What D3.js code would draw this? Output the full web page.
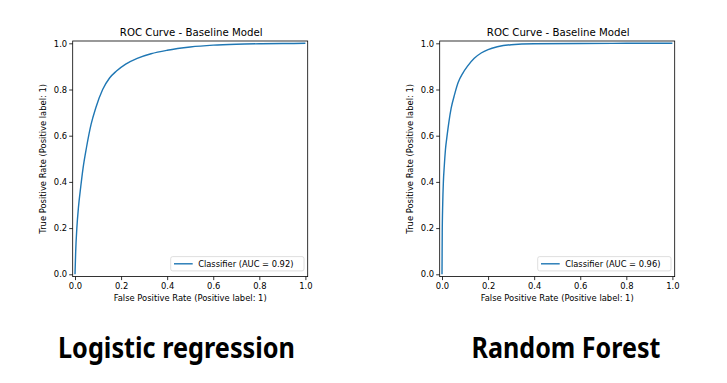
<!DOCTYPE html>
<html>
<head>
<meta charset="utf-8">
<script src="https://cdn.jsdelivr.net/npm/d3@7"></script>
<style>
  body { margin: 0; background: #fff; }
  text { font-family: "DejaVu Sans", sans-serif; fill: #000; }
</style>
</head>
<body>
<div id="chart"></div>
<script>
var width = 727;
var height = 383;

// ROC points
var lrFpr = [0, 0.003, 0.008, 0.015, 0.025, 0.035, 0.05, 0.07, 0.09, 0.12, 0.15, 0.18, 0.22, 0.27, 0.33, 0.4, 0.5, 0.6, 0.7, 0.8, 0.9, 1.0];
var lrTpr = [0, 0.1, 0.2, 0.29, 0.38, 0.46, 0.55, 0.65, 0.72, 0.8, 0.85, 0.88, 0.91, 0.935, 0.955, 0.97, 0.984, 0.992, 0.996, 0.998, 0.999, 1.0];

var rfFpr = [0, 0.001, 0.003, 0.006, 0.01, 0.015, 0.022, 0.03, 0.04, 0.055, 0.07, 0.09, 0.11, 0.14, 0.17, 0.2, 0.24, 0.3, 0.4, 0.6, 0.8, 1.0];
var rfTpr = [0, 0.18, 0.3, 0.4, 0.47, 0.54, 0.6, 0.66, 0.72, 0.78, 0.83, 0.87, 0.9, 0.935, 0.958, 0.973, 0.985, 0.994, 0.998, 0.999, 1.0, 1.0];

var ticks = [0, 0.2, 0.4, 0.6, 0.8, 1.0];
var chartTitle = "ROC Curve - Baseline Model";
var xLabel = "False Positive Rate (Positive label: 1)";
var yLabel = "True Positive Rate (Positive label: 1)";
var legendLabels = ["Classifier (AUC = 0.92)", "Classifier (AUC = 0.96)"];
var modelNames = ["Logistic regression", "Random Forest"];

var svg = d3.select("#chart").append("svg")
	.attr("width", width)
	.attr("height", height);

function draw_roc(left, fpr, tpr, legendText) {
	var right = left + 235;
	var top = 41, bottom = 276.6;
	var x = d3.scaleLinear().domain([-0.01, 1.01]).range([left, right]);
	var y = d3.scaleLinear().domain([-0.01, 1.01]).range([bottom, top]);

	var g = svg.append("g");

	// axes
	var xAxis = g.append("g")
		.attr("transform", "translate(0," + bottom + ")")
		.call(d3.axisBottom(x).tickValues(ticks).tickFormat(d3.format(".1f")).tickSize(3.5).tickPadding(2.5));
	var yAxis = g.append("g")
		.attr("transform", "translate(" + left + ",0)")
		.call(d3.axisLeft(y).tickValues(ticks).tickFormat(d3.format(".1f")).tickSize(3.5).tickPadding(2));
	[xAxis, yAxis].forEach(function(a) {
		a.select(".domain").remove();
		a.selectAll("line").attr("stroke", "#000").attr("stroke-width", 0.8);
		a.selectAll("text").style("font-size", "8.4px").style("font-family", "DejaVu Sans").attr("fill", "#222");
	});

	// frame
	g.append("rect")
		.attr("x", left).attr("y", top)
		.attr("width", right - left).attr("height", bottom - top)
		.attr("fill", "none").attr("stroke", "#000").attr("stroke-width", 0.8);

	// curve
	var pts = fpr.map(function(d, i) { return [d, tpr[i]]; });
	var line = d3.line().x(function(d) { return x(d[0]); }).y(function(d) { return y(d[1]); }).curve(d3.curveMonotoneX);
	g.append("path")
		.datum(pts)
		.attr("d", line)
		.attr("fill", "none")
		.attr("stroke", "#1f77b4")
		.attr("stroke-width", 1.4);

	// title & labels
	g.append("text")
		.attr("x", (left + right) / 2 + 1).attr("y", 36)
		.attr("text-anchor", "middle")
		.style("font-size", "10.2px")
		.attr("fill", "#222")
		.text(chartTitle);
	g.append("text")
		.attr("x", (left + right) / 2).attr("y", 301)
		.attr("text-anchor", "middle")
		.style("font-size", "8.4px")
		.attr("fill", "#222")
		.text(xLabel);
	g.append("text")
		.attr("transform", "translate(" + (left - 27) + "," + ((top + bottom) / 2) + ") rotate(-90)")
		.attr("text-anchor", "middle")
		.style("font-size", "8.4px")
		.attr("fill", "#222")
		.text(yLabel);

	// legend
	var lg = g.append("g");
	lg.append("rect")
		.attr("x", right - 137).attr("y", bottom - 20)
		.attr("width", 133.3).attr("height", 14.3)
		.attr("rx", 2)
		.attr("fill", "#fff").attr("fill-opacity", 0.8)
		.attr("stroke", "#d5d5d5").attr("stroke-width", 0.8);
	lg.append("line")
		.attr("x1", right - 133.7).attr("x2", right - 115)
		.attr("y1", bottom - 12.8).attr("y2", bottom - 12.8)
		.attr("stroke", "#1f77b4").attr("stroke-width", 1.4);
	lg.append("text")
		.attr("x", right - 109.5).attr("y", bottom - 9.8)
		.style("font-size", "8.3px")
		.attr("fill", "#222")
		.text(legendText);
}

draw_roc(72.7, lrFpr, lrTpr, legendLabels[0]);
draw_roc(439.7, rfFpr, rfTpr, legendLabels[1]);

// model names under the charts
var nameX = [176.5, 566];
var nameW = [237, 189];
svg.selectAll(".model")
	.data(modelNames)
	.enter()
	.append("text")
	.attr("class", "model")
	.attr("x", function(d, i) { return nameX[i] - nameW[i] / 2; })
	.attr("y", 358)
	.attr("textLength", function(d, i) { return nameW[i]; })
	.attr("lengthAdjust", "spacingAndGlyphs")
	.style("font-family", "'Noto Sans', sans-serif")
	.style("font-weight", "bold")
	.style("font-size", "29px")
	.attr("fill", "#111")
	.text(function(d) { return d; });
</script>
</body>
</html>
